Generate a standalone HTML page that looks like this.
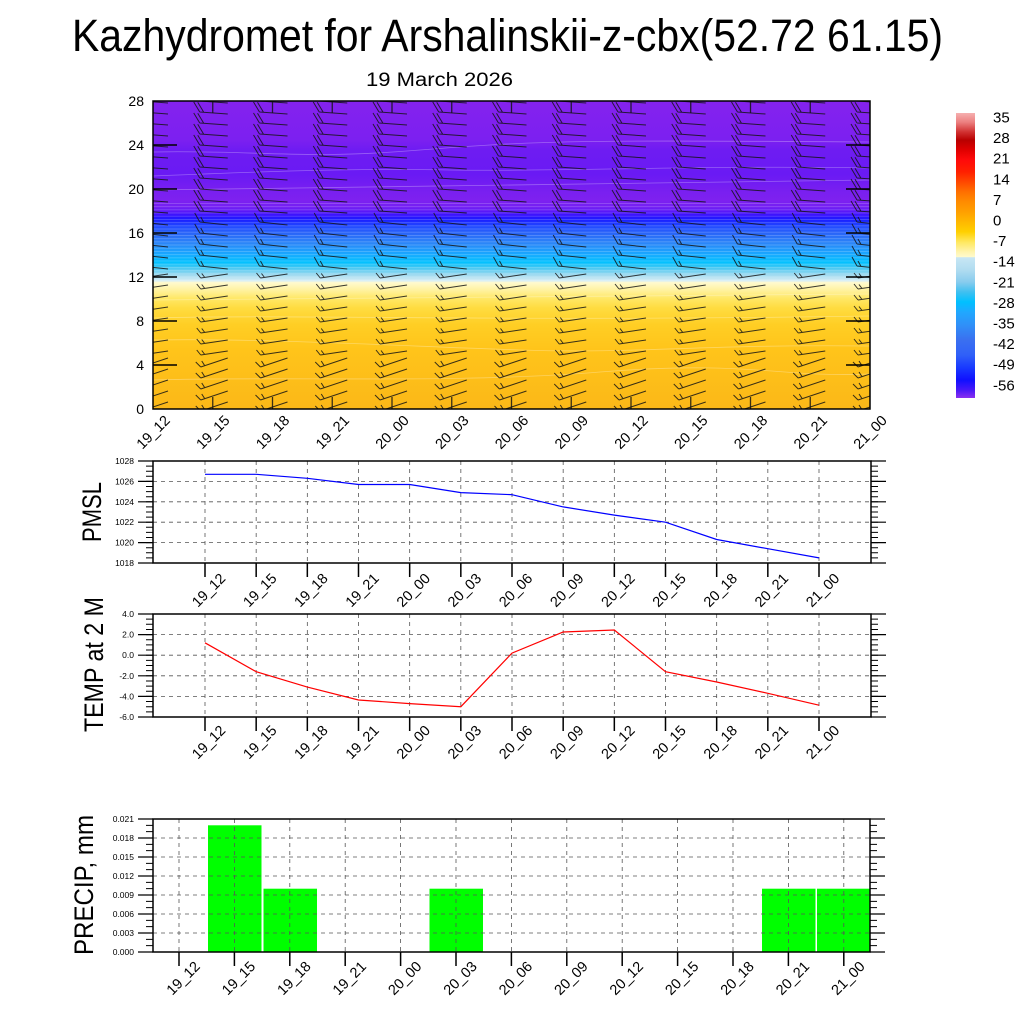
<!DOCTYPE html>
<html><head><meta charset="utf-8">
<style>
html,body{margin:0;padding:0;background:#fff;}
svg{display:block;font-family:"Liberation Sans",Arial,sans-serif;}
</style></head><body>
<svg width="1024" height="1024" viewBox="0 0 1024 1024" xmlns="http://www.w3.org/2000/svg" xmlns:xlink="http://www.w3.org/1999/xlink">
<defs>
<linearGradient id="fld" gradientUnits="userSpaceOnUse" x1="0" y1="101" x2="0" y2="409">
<stop offset="0" stop-color="#8422ee"/>
<stop offset="0.127" stop-color="#7c20f0"/>
<stop offset="0.159" stop-color="#6e1cf2"/>
<stop offset="0.240" stop-color="#6a1af4"/>
<stop offset="0.289" stop-color="#781ff0"/>
<stop offset="0.321" stop-color="#7e21ef"/>
<stop offset="0.344" stop-color="#7420f2"/>
<stop offset="0.360" stop-color="#5818f8"/>
<stop offset="0.373" stop-color="#3010ff"/>
<stop offset="0.386" stop-color="#1a20ff"/>
<stop offset="0.406" stop-color="#2048ff"/>
<stop offset="0.432" stop-color="#2a68f8"/>
<stop offset="0.464" stop-color="#2a88f8"/>
<stop offset="0.497" stop-color="#18a8ff"/>
<stop offset="0.523" stop-color="#00c0ff"/>
<stop offset="0.542" stop-color="#48c8f2"/>
<stop offset="0.565" stop-color="#a0daf0"/>
<stop offset="0.584" stop-color="#d8eef5"/>
<stop offset="0.589" stop-color="#fffad0"/>
<stop offset="0.614" stop-color="#fff2a0"/>
<stop offset="0.640" stop-color="#ffe868"/>
<stop offset="0.672" stop-color="#ffdc40"/>
<stop offset="0.727" stop-color="#ffce24"/>
<stop offset="0.808" stop-color="#ffc41a"/>
<stop offset="1" stop-color="#fbb818"/>
</linearGradient>
<linearGradient id="cb" gradientUnits="userSpaceOnUse" x1="0" y1="113" x2="0" y2="398">
<stop offset="0" stop-color="#f6b0b0"/>
<stop offset="0.032" stop-color="#ec8080"/>
<stop offset="0.067" stop-color="#d03030"/>
<stop offset="0.095" stop-color="#b80000"/>
<stop offset="0.13" stop-color="#e00000"/>
<stop offset="0.165" stop-color="#ff0a0a"/>
<stop offset="0.207" stop-color="#ff2000"/>
<stop offset="0.242" stop-color="#ff4800"/>
<stop offset="0.277" stop-color="#ff7000"/>
<stop offset="0.312" stop-color="#ff8c00"/>
<stop offset="0.347" stop-color="#ffa000"/>
<stop offset="0.382" stop-color="#ffb800"/>
<stop offset="0.417" stop-color="#ffd000"/>
<stop offset="0.453" stop-color="#ffe860"/>
<stop offset="0.488" stop-color="#fff4b0"/>
<stop offset="0.505" stop-color="#fffacc"/>
<stop offset="0.507" stop-color="#c8e6f4"/>
<stop offset="0.551" stop-color="#b0dcf0"/>
<stop offset="0.593" stop-color="#88ccee"/>
<stop offset="0.628" stop-color="#40c0f0"/>
<stop offset="0.663" stop-color="#00c0ff"/>
<stop offset="0.698" stop-color="#20a8ff"/>
<stop offset="0.744" stop-color="#3090f8"/>
<stop offset="0.796" stop-color="#3a70f0"/>
<stop offset="0.849" stop-color="#3060f8"/>
<stop offset="0.895" stop-color="#1838ff"/>
<stop offset="0.937" stop-color="#1010ff"/>
<stop offset="0.972" stop-color="#4818f8"/>
<stop offset="1" stop-color="#8a30f0"/>
</linearGradient>
<pattern id="stripes" patternUnits="userSpaceOnUse" x="0" y="203" width="20" height="3.2">
<rect x="0" y="0" width="20" height="0.8" fill="#ffffff" fill-opacity="0.22"/>
</pattern>
<clipPath id="clipTop"><rect x="153" y="101" width="717" height="308"/></clipPath>
<path id="bA" d="M-13,0 L15,2 M-13,0 L-19,-10 M-9,0.3 L-15,-9.7"/>
<path id="bB" d="M-13,0 L15,3 M-13,0 L-18,-9 M-9,0.4 L-12,-5"/>
<path id="bC" d="M-12,1 L15,-3 M-12,1 L-16,-4 M-8,0.5 L-11,-3.5"/>
<path id="bD" d="M-12,2 L15,-7 M-12,2 L-17,-3 M-8,0.7 L-11,-4"/>
<g id="rowA"><use xlink:href="#bA" x="153"/><use xlink:href="#bA" x="212.75"/><use xlink:href="#bA" x="272.5"/><use xlink:href="#bA" x="332.25"/><use xlink:href="#bA" x="392"/><use xlink:href="#bA" x="451.75"/><use xlink:href="#bA" x="511.5"/><use xlink:href="#bA" x="571.25"/><use xlink:href="#bA" x="631"/><use xlink:href="#bA" x="690.75"/><use xlink:href="#bA" x="750.5"/><use xlink:href="#bA" x="810.25"/><use xlink:href="#bA" x="870"/></g>
<g id="rowB"><use xlink:href="#bB" x="153"/><use xlink:href="#bB" x="212.75"/><use xlink:href="#bB" x="272.5"/><use xlink:href="#bB" x="332.25"/><use xlink:href="#bB" x="392"/><use xlink:href="#bB" x="451.75"/><use xlink:href="#bB" x="511.5"/><use xlink:href="#bB" x="571.25"/><use xlink:href="#bB" x="631"/><use xlink:href="#bB" x="690.75"/><use xlink:href="#bB" x="750.5"/><use xlink:href="#bB" x="810.25"/><use xlink:href="#bB" x="870"/></g>
<g id="rowC"><use xlink:href="#bC" x="153"/><use xlink:href="#bC" x="212.75"/><use xlink:href="#bC" x="272.5"/><use xlink:href="#bC" x="332.25"/><use xlink:href="#bC" x="392"/><use xlink:href="#bC" x="451.75"/><use xlink:href="#bC" x="511.5"/><use xlink:href="#bC" x="571.25"/><use xlink:href="#bC" x="631"/><use xlink:href="#bC" x="690.75"/><use xlink:href="#bC" x="750.5"/><use xlink:href="#bC" x="810.25"/><use xlink:href="#bC" x="870"/></g>
<g id="rowD"><use xlink:href="#bD" x="153"/><use xlink:href="#bD" x="212.75"/><use xlink:href="#bD" x="272.5"/><use xlink:href="#bD" x="332.25"/><use xlink:href="#bD" x="392"/><use xlink:href="#bD" x="451.75"/><use xlink:href="#bD" x="511.5"/><use xlink:href="#bD" x="571.25"/><use xlink:href="#bD" x="631"/><use xlink:href="#bD" x="690.75"/><use xlink:href="#bD" x="750.5"/><use xlink:href="#bD" x="810.25"/><use xlink:href="#bD" x="870"/></g>
</defs>

<rect width="1024" height="1024" fill="#fff"/>

<!-- Titles -->
<text x="72" y="51" font-size="45" textLength="871" lengthAdjust="spacingAndGlyphs">Kazhydromet for Arshalinskii-z-cbx(52.72 61.15)</text>
<text x="366" y="86" font-size="19" textLength="147" lengthAdjust="spacingAndGlyphs">19 March 2026</text>

<!-- ===== Top contour panel ===== -->
<rect x="153" y="101" width="717" height="308" fill="url(#fld)"/>
<rect x="153" y="203" width="717" height="80" fill="url(#stripes)"/>
<g fill="none" stroke="#ffffff" stroke-opacity="0.3" stroke-width="0.8">
<path d="M153,176 C250,172 350,168 450,170 S700,165 870,168"/>
<path d="M153,152 C260,150 300,160 420,150 S600,140 870,142"/>
<path d="M153,190 C300,186 500,183 870,180"/>
<path d="M153,300 C300,298 500,296 870,294"/>
<path d="M153,318 C300,314 500,322 870,316"/>
<path d="M153,340 C260,338 400,346 520,350 S700,344 870,346"/>
<path d="M153,380 C300,376 450,384 600,372 S780,378 870,374"/>
</g>
<g clip-path="url(#clipTop)" fill="none" stroke="#151515" stroke-opacity="0.85" stroke-width="1">
<use xlink:href="#rowA" y="101"/>
<use xlink:href="#rowA" y="112"/>
<use xlink:href="#rowA" y="123"/>
<use xlink:href="#rowA" y="134"/>
<use xlink:href="#rowA" y="145"/>
<use xlink:href="#rowA" y="156"/>
<use xlink:href="#rowA" y="167"/>
<use xlink:href="#rowA" y="178"/>
<use xlink:href="#rowA" y="189"/>
<use xlink:href="#rowA" y="200"/>
<use xlink:href="#rowA" y="211"/>
<use xlink:href="#rowB" y="222"/>
<use xlink:href="#rowB" y="233"/>
<use xlink:href="#rowB" y="244"/>
<use xlink:href="#rowB" y="255"/>
<use xlink:href="#rowB" y="266"/>
<use xlink:href="#rowC" y="277"/>
<use xlink:href="#rowC" y="288"/>
<use xlink:href="#rowC" y="299"/>
<use xlink:href="#rowC" y="310"/>
<use xlink:href="#rowC" y="321"/>
<use xlink:href="#rowC" y="332"/>
<use xlink:href="#rowC" y="343"/>
<use xlink:href="#rowC" y="354"/>
<use xlink:href="#rowD" y="365"/>
<use xlink:href="#rowD" y="376"/>
<use xlink:href="#rowD" y="387"/>
<use xlink:href="#rowD" y="398"/>
<use xlink:href="#rowD" y="409"/>
<path stroke-width="1.3" d="M212.75,101v12M272.5,101v12M332.25,101v12M392,101v12M451.75,101v12M511.5,101v12M571.25,101v12M631,101v12M690.75,101v12M750.5,101v12M810.25,101v12M212.75,409v-12M272.5,409v-12M332.25,409v-12M392,409v-12M451.75,409v-12M511.5,409v-12M571.25,409v-12M631,409v-12M690.75,409v-12M750.5,409v-12M810.25,409v-12"/>
</g>
<g fill="none" stroke="#000" stroke-width="1.5">
<path d="M153,365h24M153,321h24M153,277h24M153,233h24M153,189h24M153,145h24M870,365h-24M870,321h-24M870,277h-24M870,233h-24M870,189h-24M870,145h-24"/>
<rect x="153" y="101" width="717" height="308"/>
</g>
<g font-size="14" text-anchor="end">
<text x="144" y="414">0</text>
<text x="144" y="370">4</text>
<text x="144" y="326">8</text>
<text x="144" y="282">12</text>
<text x="144" y="238">16</text>
<text x="144" y="194">20</text>
<text x="144" y="150">24</text>
<text x="144" y="106">28</text>
</g>
<g font-size="14.5" text-anchor="middle">
<text transform="translate(153,432) rotate(-45)" dy="0.35em">19_12</text>
<text transform="translate(212.75,432) rotate(-45)" dy="0.35em">19_15</text>
<text transform="translate(272.5,432) rotate(-45)" dy="0.35em">19_18</text>
<text transform="translate(332.25,432) rotate(-45)" dy="0.35em">19_21</text>
<text transform="translate(392,432) rotate(-45)" dy="0.35em">20_00</text>
<text transform="translate(451.75,432) rotate(-45)" dy="0.35em">20_03</text>
<text transform="translate(511.5,432) rotate(-45)" dy="0.35em">20_06</text>
<text transform="translate(571.25,432) rotate(-45)" dy="0.35em">20_09</text>
<text transform="translate(631,432) rotate(-45)" dy="0.35em">20_12</text>
<text transform="translate(690.75,432) rotate(-45)" dy="0.35em">20_15</text>
<text transform="translate(750.5,432) rotate(-45)" dy="0.35em">20_18</text>
<text transform="translate(810.25,432) rotate(-45)" dy="0.35em">20_21</text>
<text transform="translate(870,432) rotate(-45)" dy="0.35em">21_00</text>
</g>

<!-- Colorbar -->
<rect x="956" y="113" width="19" height="285" fill="url(#cb)"/>
<g font-size="15">
<text x="993" y="122.5">35</text>
<text x="993" y="143.1">28</text>
<text x="993" y="163.7">21</text>
<text x="993" y="184.3">14</text>
<text x="993" y="204.9">7</text>
<text x="993" y="225.5">0</text>
<text x="993" y="246.1">-7</text>
<text x="993" y="266.7">-14</text>
<text x="993" y="287.3">-21</text>
<text x="993" y="307.9">-28</text>
<text x="993" y="328.5">-35</text>
<text x="993" y="349.1">-42</text>
<text x="993" y="369.7">-49</text>
<text x="993" y="390.3">-56</text>
</g>

<!-- ===== PMSL panel ===== -->
<g fill="none" stroke="#555" stroke-width="0.8" stroke-dasharray="4 4">
<path d="M205,461V563M256.17,461V563M307.33,461V563M358.5,461V563M409.67,461V563M460.83,461V563M512,461V563M563.17,461V563M614.33,461V563M665.5,461V563M716.67,461V563M767.83,461V563M819,461V563"/>
<path d="M153,481.4H871M153,501.8H871M153,522.2H871M153,542.6H871"/>
</g>
<polyline fill="none" stroke="#0000ff" stroke-width="1.2" points="205,474.3 256.17,474.3 307.33,478.3 358.5,484.5 409.67,484.5 460.83,492.6 512,494.7 563.17,506.9 614.33,515.1 665.5,522.2 716.67,539.5 767.83,548.7 819,557.9"/>
<g stroke="#000" fill="none">
<line x1="145.5" y1="460.4" x2="145.5" y2="564" stroke-width="15" stroke-dasharray="1.2 19.2"/>
<line x1="149.5" y1="460.5" x2="149.5" y2="564" stroke-width="7" stroke-dasharray="1 4.1"/>
<line x1="878.5" y1="460.4" x2="878.5" y2="564" stroke-width="15" stroke-dasharray="1.2 19.2"/>
<line x1="874.5" y1="460.5" x2="874.5" y2="564" stroke-width="7" stroke-dasharray="1 4.1"/>
<path stroke-width="1.5" d="M205,563v14M256.17,563v14M307.33,563v14M358.5,563v14M409.67,563v14M460.83,563v14M512,563v14M563.17,563v14M614.33,563v14M665.5,563v14M716.67,563v14M767.83,563v14M819,563v14"/>
<rect x="153" y="461" width="718" height="102" stroke-width="1.5"/>
</g>
<g font-size="8.5" text-anchor="end">
<text x="134" y="464">1028</text>
<text x="134" y="484.4">1026</text>
<text x="134" y="504.8">1024</text>
<text x="134" y="525.2">1022</text>
<text x="134" y="545.6">1020</text>
<text x="134" y="566">1018</text>
</g>
<text transform="translate(101,512) rotate(-90)" font-size="27" text-anchor="middle" textLength="60" lengthAdjust="spacingAndGlyphs">PMSL</text>
<g font-size="14.5" text-anchor="middle">
<text transform="translate(208.5,590) rotate(-45)" dy="0.35em">19_12</text>
<text transform="translate(259.67,590) rotate(-45)" dy="0.35em">19_15</text>
<text transform="translate(310.83,590) rotate(-45)" dy="0.35em">19_18</text>
<text transform="translate(362,590) rotate(-45)" dy="0.35em">19_21</text>
<text transform="translate(413.17,590) rotate(-45)" dy="0.35em">20_00</text>
<text transform="translate(464.33,590) rotate(-45)" dy="0.35em">20_03</text>
<text transform="translate(515.5,590) rotate(-45)" dy="0.35em">20_06</text>
<text transform="translate(566.67,590) rotate(-45)" dy="0.35em">20_09</text>
<text transform="translate(617.83,590) rotate(-45)" dy="0.35em">20_12</text>
<text transform="translate(669,590) rotate(-45)" dy="0.35em">20_15</text>
<text transform="translate(720.17,590) rotate(-45)" dy="0.35em">20_18</text>
<text transform="translate(771.33,590) rotate(-45)" dy="0.35em">20_21</text>
<text transform="translate(822.5,590) rotate(-45)" dy="0.35em">21_00</text>
</g>

<!-- ===== TEMP panel ===== -->
<g fill="none" stroke="#555" stroke-width="0.8" stroke-dasharray="4 4">
<path d="M205,614V717M256.17,614V717M307.33,614V717M358.5,614V717M409.67,614V717M460.83,614V717M512,614V717M563.17,614V717M614.33,614V717M665.5,614V717M716.67,614V717M767.83,614V717M819,614V717"/>
<path d="M153,634.6H871M153,655.2H871M153,675.8H871M153,696.4H871"/>
</g>
<polyline fill="none" stroke="#ff0000" stroke-width="1.2" points="205,642.8 256.17,671.7 307.33,687.1 358.5,700 409.67,703.6 460.83,706.7 512,653.1 563.17,632 614.33,630 665.5,671.7 716.67,682 767.83,693.3 819,705.2"/>
<g stroke="#000" fill="none">
<line x1="145.5" y1="613.4" x2="145.5" y2="718" stroke-width="15" stroke-dasharray="1.2 19.4"/>
<line x1="149.5" y1="613.5" x2="149.5" y2="718" stroke-width="7" stroke-dasharray="1 4.15"/>
<line x1="878.5" y1="613.4" x2="878.5" y2="718" stroke-width="15" stroke-dasharray="1.2 19.4"/>
<line x1="874.5" y1="613.5" x2="874.5" y2="718" stroke-width="7" stroke-dasharray="1 4.15"/>
<path stroke-width="1.5" d="M205,717v14M256.17,717v14M307.33,717v14M358.5,717v14M409.67,717v14M460.83,717v14M512,717v14M563.17,717v14M614.33,717v14M665.5,717v14M716.67,717v14M767.83,717v14M819,717v14"/>
<rect x="153" y="614" width="718" height="103" stroke-width="1.5"/>
</g>
<g font-size="8.5" text-anchor="end">
<text x="134" y="617">4.0</text>
<text x="134" y="637.6">2.0</text>
<text x="134" y="658.2">0.0</text>
<text x="134" y="678.8">-2.0</text>
<text x="134" y="699.4">-4.0</text>
<text x="134" y="720">-6.0</text>
</g>
<text transform="translate(103,664.5) rotate(-90)" font-size="27" text-anchor="middle" textLength="135" lengthAdjust="spacingAndGlyphs">TEMP at 2 M</text>
<g font-size="14.5" text-anchor="middle">
<text transform="translate(208.5,742) rotate(-45)" dy="0.35em">19_12</text>
<text transform="translate(259.67,742) rotate(-45)" dy="0.35em">19_15</text>
<text transform="translate(310.83,742) rotate(-45)" dy="0.35em">19_18</text>
<text transform="translate(362,742) rotate(-45)" dy="0.35em">19_21</text>
<text transform="translate(413.17,742) rotate(-45)" dy="0.35em">20_00</text>
<text transform="translate(464.33,742) rotate(-45)" dy="0.35em">20_03</text>
<text transform="translate(515.5,742) rotate(-45)" dy="0.35em">20_06</text>
<text transform="translate(566.67,742) rotate(-45)" dy="0.35em">20_09</text>
<text transform="translate(617.83,742) rotate(-45)" dy="0.35em">20_12</text>
<text transform="translate(669,742) rotate(-45)" dy="0.35em">20_15</text>
<text transform="translate(720.17,742) rotate(-45)" dy="0.35em">20_18</text>
<text transform="translate(771.33,742) rotate(-45)" dy="0.35em">20_21</text>
<text transform="translate(822.5,742) rotate(-45)" dy="0.35em">21_00</text>
</g>

<!-- ===== PRECIP panel ===== -->
<g fill="#00ff00">
<rect x="208" y="825.3" width="53.5" height="126.7"/>
<rect x="263.5" y="888.7" width="53.5" height="63.3"/>
<rect x="429.5" y="888.7" width="53.5" height="63.3"/>
<rect x="762" y="888.7" width="53.5" height="63.3"/>
<rect x="817" y="888.7" width="53.5" height="63.3"/>
</g>
<g fill="none" stroke="#555" stroke-width="0.8" stroke-dasharray="4 4">
<path d="M179,819V952M234.4,819V952M289.8,819V952M345.2,819V952M400.6,819V952M456,819V952M511.4,819V952M566.8,819V952M622.2,819V952M677.6,819V952M733,819V952M788.4,819V952M843.8,819V952"/>
<path d="M153,838H870M153,857H870M153,876H870M153,895H870M153,914H870M153,933H870"/>
</g>
<g stroke="#000" fill="none">
<line x1="145.5" y1="818.4" x2="145.5" y2="953" stroke-width="15" stroke-dasharray="1.2 17.8"/>
<line x1="149.5" y1="818.5" x2="149.5" y2="953" stroke-width="7" stroke-dasharray="1 5.333"/>
<line x1="877.5" y1="818.4" x2="877.5" y2="953" stroke-width="15" stroke-dasharray="1.2 17.8"/>
<line x1="873.5" y1="818.5" x2="873.5" y2="953" stroke-width="7" stroke-dasharray="1 5.333"/>
<path stroke-width="1.5" d="M179,952v14M234.4,952v14M289.8,952v14M345.2,952v14M400.6,952v14M456,952v14M511.4,952v14M566.8,952v14M622.2,952v14M677.6,952v14M733,952v14M788.4,952v14M843.8,952v14"/>
<rect x="153" y="819" width="717" height="133" stroke-width="1.5"/>
</g>
<g font-size="8.5" text-anchor="end">
<text x="134" y="822">0.021</text>
<text x="134" y="841">0.018</text>
<text x="134" y="860">0.015</text>
<text x="134" y="879">0.012</text>
<text x="134" y="898">0.009</text>
<text x="134" y="917">0.006</text>
<text x="134" y="936">0.003</text>
<text x="134" y="955">0.000</text>
</g>
<text transform="translate(93,885) rotate(-90)" font-size="27" text-anchor="middle" textLength="140" lengthAdjust="spacingAndGlyphs">PRECIP, mm</text>
<g font-size="14.5" text-anchor="middle">
<text transform="translate(183,978) rotate(-45)" dy="0.35em">19_12</text>
<text transform="translate(238.4,978) rotate(-45)" dy="0.35em">19_15</text>
<text transform="translate(293.8,978) rotate(-45)" dy="0.35em">19_18</text>
<text transform="translate(349.2,978) rotate(-45)" dy="0.35em">19_21</text>
<text transform="translate(404.6,978) rotate(-45)" dy="0.35em">20_00</text>
<text transform="translate(460,978) rotate(-45)" dy="0.35em">20_03</text>
<text transform="translate(515.4,978) rotate(-45)" dy="0.35em">20_06</text>
<text transform="translate(570.8,978) rotate(-45)" dy="0.35em">20_09</text>
<text transform="translate(626.2,978) rotate(-45)" dy="0.35em">20_12</text>
<text transform="translate(681.6,978) rotate(-45)" dy="0.35em">20_15</text>
<text transform="translate(737,978) rotate(-45)" dy="0.35em">20_18</text>
<text transform="translate(792.4,978) rotate(-45)" dy="0.35em">20_21</text>
<text transform="translate(847.8,978) rotate(-45)" dy="0.35em">21_00</text>
</g>
</svg>
</body></html>
